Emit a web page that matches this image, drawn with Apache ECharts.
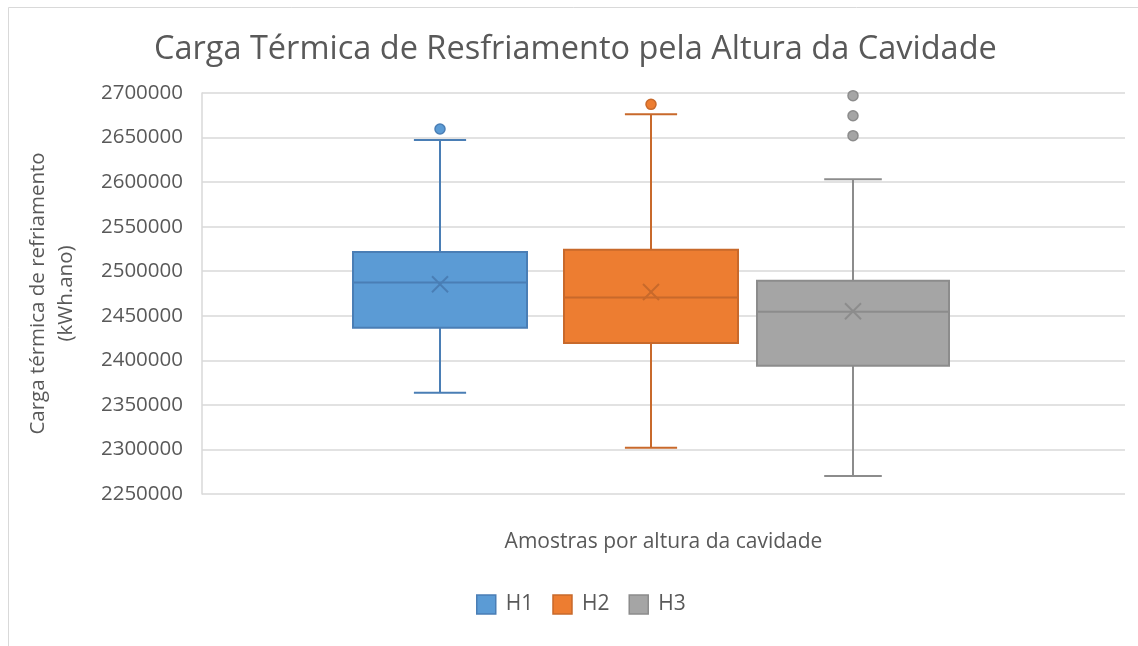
<!DOCTYPE html>
<html>
<head>
<meta charset="utf-8">
<script src="https://cdn.jsdelivr.net/npm/echarts@6/dist/echarts.min.js"></script>
<style>
  html, body { margin: 0; padding: 0; background: #fff; }
  #chart { width: 1138px; height: 646px; }
</style>
</head>
<body>
<div id="chart"></div>
<script>
// dados
const categories = ['H1', 'H2', 'H3']
const boxMin = [2363700, 2302000, 2270200]
const boxQ1 = [2436600, 2419500, 2394000]
const boxMedian = [2487300, 2470500, 2454600]
const boxQ3 = [2521500, 2524200, 2489400]
const boxMax = [2647300, 2676100, 2603200]
const boxMean = [2485400, 2476700, 2455000]
const outliers = [
  [2659600],
  [2687300],
  [2697000, 2674500, 2652100]
]
const yMin = 2250000
const yMax = 2700000
const yStep = 50000

// estilos
const fillColors = ['#5B9BD5', '#ED7D31', '#A5A5A5']
const strokeColors = ['#4A7EB5', '#C8692B', '#8C8C8C']
const boxWidths = [174, 174, 192]
const boxCenters = [440, 651, 853]
const font = 'Open Sans'
const textColor = '#595959'

const plotTop = 93
const plotBottom = 152

const myChart = echarts.init(document.getElementById('chart'))

// desenha uma caixa (whiskers, caixa, mediana, média)
const makeBoxRenderer = (i) => (params, api) => {
  const cat = api.value(0)
  const pMin = api.coord([cat, api.value(1)])
  const pQ1 = api.coord([cat, api.value(2)])
  const pMed = api.coord([cat, api.value(3)])
  const pQ3 = api.coord([cat, api.value(4)])
  const pMax = api.coord([cat, api.value(5)])
  const pMean = api.coord([cat, api.value(6)])
  const cx = pMed[0]
  const half = boxWidths[i] / 2
  const cap = boxWidths[i] * 0.15
  const m = 8
  const line = { stroke: strokeColors[i], lineWidth: 2, fill: null }
  return {
    type: 'group',
    children: [
      { type: 'line', shape: { x1: cx, y1: pMax[1], x2: cx, y2: pQ3[1] }, style: line },
      { type: 'line', shape: { x1: cx, y1: pQ1[1], x2: cx, y2: pMin[1] }, style: line },
      { type: 'line', shape: { x1: cx - cap, y1: pMax[1], x2: cx + cap, y2: pMax[1] }, style: line },
      { type: 'line', shape: { x1: cx - cap, y1: pMin[1], x2: cx + cap, y2: pMin[1] }, style: line },
      {
        type: 'rect',
        shape: { x: cx - half, y: pQ3[1], width: half * 2, height: pQ1[1] - pQ3[1] },
        style: { fill: fillColors[i], stroke: strokeColors[i], lineWidth: 2 }
      },
      { type: 'line', shape: { x1: cx - half, y1: pMed[1], x2: cx + half, y2: pMed[1] }, style: line },
      { type: 'line', shape: { x1: cx - m, y1: pMean[1] - m, x2: cx + m, y2: pMean[1] + m }, style: line },
      { type: 'line', shape: { x1: cx - m, y1: pMean[1] + m, x2: cx + m, y2: pMean[1] - m }, style: line }
    ]
  }
}

const grids = [{ left: 202, right: 13, top: plotTop, bottom: plotBottom }]
const xAxes = [{
  gridIndex: 0,
  type: 'category',
  data: [''],
  axisLine: { show: false },
  axisTick: { show: false },
  axisLabel: { show: false },
  name: 'Amostras por altura da cavidade',
  nameLocation: 'middle',
  nameGap: 38,
  nameTextStyle: { fontFamily: font, fontSize: 21, color: textColor }
}]
const yAxes = [{
  gridIndex: 0,
  type: 'value',
  min: yMin,
  max: yMax,
  interval: yStep,
  axisLine: { show: true, lineStyle: { color: '#d9d9d9', width: 1.5 } },
  axisTick: { show: false },
  axisLabel: {
    fontFamily: font,
    fontSize: 20.5,
    color: textColor,
    margin: 19,
    formatter: (value) => String(value)
  },
  splitLine: { lineStyle: { color: '#d9d9d9', width: 1.5 } },
  name: 'Carga térmica de refriamento\n(kWh.ano)',
  nameLocation: 'middle',
  nameRotate: 90,
  nameGap: 122,
  nameTextStyle: { fontFamily: font, fontSize: 20.5, color: textColor, lineHeight: 28 }
}]
const series = []

categories.forEach((name, i) => {
  const g = i + 1
  grids.push({ left: boxCenters[i] - 100, width: 200, top: plotTop, bottom: plotBottom })
  xAxes.push({ gridIndex: g, type: 'category', data: [name], show: false })
  yAxes.push({ gridIndex: g, type: 'value', min: yMin, max: yMax, show: false })
  series.push({
    name,
    type: 'custom',
    xAxisIndex: g,
    yAxisIndex: g,
    itemStyle: { color: fillColors[i] },
    renderItem: makeBoxRenderer(i),
    data: [[0, boxMin[i], boxQ1[i], boxMedian[i], boxQ3[i], boxMax[i], boxMean[i]]]
  })
  series.push({
    name,
    type: 'scatter',
    xAxisIndex: g,
    yAxisIndex: g,
    symbol: 'circle',
    symbolSize: 10,
    itemStyle: { color: fillColors[i], borderColor: strokeColors[i], borderWidth: 1.5, opacity: 1 },
    data: outliers[i].map((v) => [0, v])
  })
})

const option = {
  animation: false,
  backgroundColor: '#fff',
  title: {
    text: 'Carga Térmica de Resfriamento pela Altura da Cavidade',
    left: 149,
    top: 28,
    padding: 5,
    textStyle: { fontFamily: font, fontSize: 32.5, fontWeight: 'normal', color: textColor }
  },
  legend: {
    left: 471,
    top: 589,
    itemWidth: 19,
    itemHeight: 19,
    itemGap: 19,
    textStyle: { fontFamily: font, fontSize: 21, color: textColor, padding: [0, 0, 0, 5] },
    data: categories.map((name, i) => ({
      name,
      icon: 'rect',
      itemStyle: { color: fillColors[i], borderColor: strokeColors[i], borderWidth: 1.5 }
    }))
  },
  graphic: [{
    type: 'rect',
    silent: true,
    shape: { x: 8.5, y: 7.5, width: 1200, height: 700 },
    style: { fill: null, stroke: '#d9d9d9', lineWidth: 1 }
  }],
  grid: grids,
  xAxis: xAxes,
  yAxis: yAxes,
  series
}

myChart.setOption(option)
</script>
</body>
</html>
